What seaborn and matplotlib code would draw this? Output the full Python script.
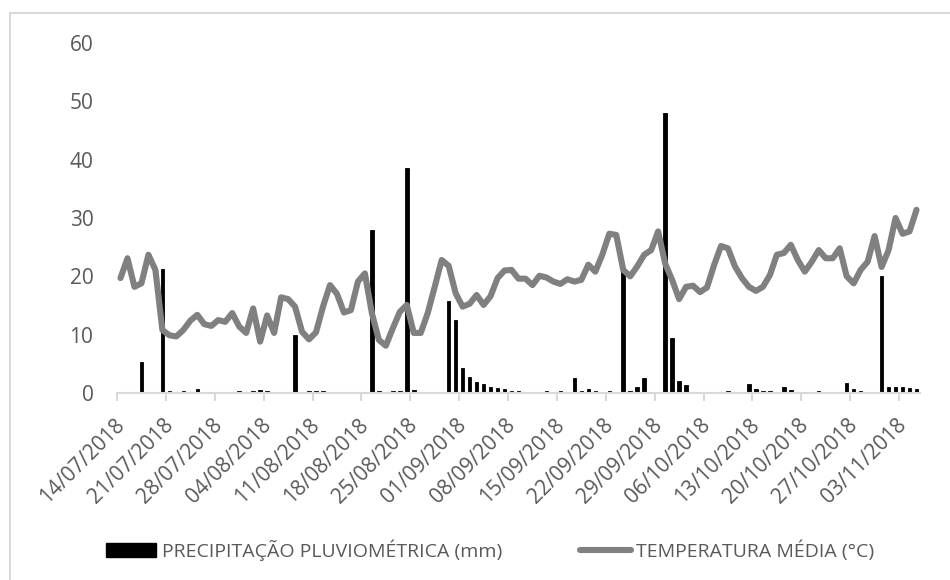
import numpy as np
import pandas as pd
import matplotlib
matplotlib.use("Agg")
import matplotlib.pyplot as plt
from matplotlib.patches import Patch, Rectangle
from matplotlib.lines import Line2D
import seaborn as sns

# Daily series, 14/07/2018 - 05/11/2018
inicio = "2018-07-14"
n_dias = 115

precipitacao = [
    0, 0, 0, 5.4, 0, 0, 21.2, 0.4, 0, 0.4,
    0, 0.7, 0, 0, 0, 0, 0, 0.4, 0, 0.4,
    0.5, 0.4, 0, 0, 0, 10.0, 0, 0.4, 0.4, 0.4,
    0, 0, 0, 0, 0, 0, 28.0, 0.4, 0, 0.4,
    0.4, 38.5, 0.6, 0, 0, 0, 0, 15.8, 12.5, 4.3,
    2.7, 1.9, 1.5, 1.1, 0.8, 0.7, 0.4, 0.4, 0, 0,
    0, 0.4, 0, 0.4, 0, 2.5, 0.4, 0.7, 0.4, 0,
    0.4, 0, 21.0, 0.4, 1.0, 2.5, 0, 0, 48.0, 9.5,
    2.1, 1.3, 0, 0, 0, 0, 0, 0.4, 0, 0,
    1.5, 0.7, 0.4, 0.4, 0, 1.0, 0.5, 0, 0, 0,
    0.4, 0, 0, 0, 1.8, 0.7, 0.4, 0, 0, 20.1,
    1.1, 1.0, 1.0, 0.8, 0.7,
]

temperatura = [
    19.7, 23.1, 18.2, 18.8, 23.7, 21.1, 10.8, 9.9, 9.7, 10.8,
    12.4, 13.4, 11.8, 11.5, 12.5, 12.2, 13.7, 11.4, 10.3, 14.5,
    8.8, 13.3, 10.3, 16.4, 16.1, 14.8, 10.5, 9.2, 10.4, 14.8,
    18.5, 17.0, 13.8, 14.2, 19.1, 20.5, 13.7, 9.1, 8.1, 11.1,
    13.9, 15.1, 10.3, 10.3, 13.7, 18.2, 22.8, 21.8, 17.1, 14.8,
    15.3, 16.8, 15.1, 16.6, 19.7, 21.0, 21.1, 19.6, 19.6, 18.5,
    20.1, 19.8, 19.1, 18.7, 19.5, 19.1, 19.4, 22.0, 20.8, 23.7,
    27.3, 27.1, 21.1, 20.0, 21.7, 23.7, 24.5, 27.7, 22.2, 19.4,
    16.1, 18.2, 18.4, 17.3, 18.1, 21.9, 25.2, 24.8, 21.7, 19.7,
    18.2, 17.5, 18.2, 20.2, 23.7, 24.0, 25.4, 22.8, 20.8, 22.5,
    24.5, 23.1, 23.1, 24.8, 20.0, 18.8, 21.1, 22.5, 26.9, 21.6,
    24.5, 30.0, 27.3, 27.7, 31.4,
]

rotulo_chuva = "PRECIPITAÇÃO PLUVIOMÉTRICA (mm)"
rotulo_temp = "TEMPERATURA MÉDIA (°C)"

datas = pd.date_range(inicio, periods=n_dias, freq="D")
df = pd.DataFrame({
    "data": datas,
    "precipitacao": precipitacao,
    "temperatura": temperatura,
})
# each day occupies one unit slot; marks sit at the slot centre
df["x"] = (df["data"] - datas[0]).dt.days + 0.5

sns.set_theme(style="white")
plt.rcParams["font.family"] = ["Open Sans", "DejaVu Sans"]
cor_texto = "#595959"
cor_eixo = "#d9d9d9"
cor_linha = "#808080"

fig = plt.figure(figsize=(9.5, 5.8), dpi=100)
ax = fig.add_axes([117 / 950, 1 - 393 / 580, (920 - 117) / 950, (393 - 43) / 580])

sns.barplot(data=df, x="x", y="precipitacao", native_scale=True, color="black",
            saturation=1, width=0.5, errorbar=None, ax=ax, zorder=2,
            edgecolor="black", linewidth=0.6)
sns.lineplot(data=df, x="x", y="temperatura", color=cor_linha, linewidth=4.4,
             ax=ax, zorder=3, solid_joinstyle="round", solid_capstyle="round")

ax.set_xlim(0, n_dias)
ax.set_ylim(0, 60)
ax.set_yticks(np.arange(0, 61, 10))
semanas = np.arange(0, n_dias, 7)
ax.set_xticks(semanas)
ax.set_xticklabels([])
ax.set_xlabel("")
ax.set_ylabel("")
ax.grid(False)

# weekly date labels, rotated, hanging just right of and below each tick
for i in semanas:
    ax.annotate(datas[i].strftime("%d/%m/%Y"), xy=(i, 0),
                xycoords=("data", "axes fraction"),
                xytext=(5.8, -23.4), textcoords="offset points",
                rotation=45, rotation_mode="anchor", ha="right",
                va="baseline", fontsize=15, color=cor_texto,
                annotation_clip=False)

for lado in ("left", "right", "top"):
    ax.spines[lado].set_visible(False)
ax.spines["bottom"].set_color(cor_eixo)
ax.spines["bottom"].set_linewidth(1.5)
ax.tick_params(axis="x", bottom=True, length=6, width=1.5, color=cor_eixo)
ax.tick_params(axis="y", left=False, length=0, labelsize=15,
               labelcolor=cor_texto, pad=17)

alcas = [
    Patch(facecolor="black", edgecolor="black"),
    Line2D([0], [0], color=cor_linha, linewidth=4.4, solid_capstyle="round"),
]
fig.legend(alcas, [rotulo_chuva, rotulo_temp], loc="center",
           bbox_to_anchor=(490 / 950, 1 - 550 / 580), ncol=2, frameon=False,
           fontsize=14, labelcolor=cor_texto, handlelength=2.6,
           handleheight=0.75, handletextpad=0.3, columnspacing=4.0)

# chart area frame
fig.patches.append(Rectangle((10 / 950, -0.1), 1.2, 1 - 13 / 580 + 0.1,
                             transform=fig.transFigure, fill=False,
                             edgecolor=cor_eixo, linewidth=1.5, zorder=0))

fig.savefig("out.png", dpi=100)
